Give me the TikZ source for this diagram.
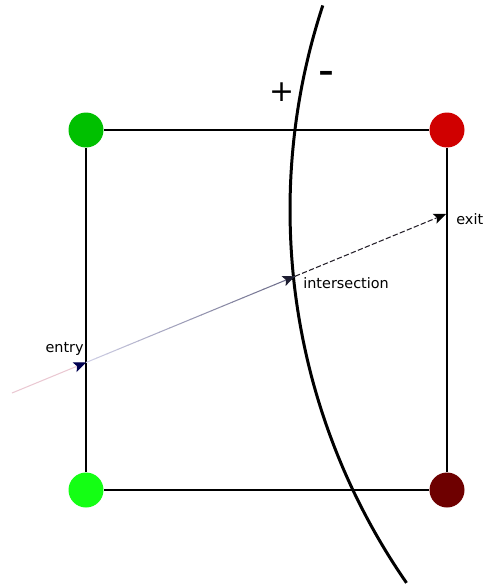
\documentclass[tikz,border=0pt]{standalone}
\usepackage{fontspec}
\setmainfont{DejaVu Sans}
\usetikzlibrary{positioning, arrows.meta, calc}

\definecolor{cornerTL}{RGB}{0,192,0}
\definecolor{cornerBL}{RGB}{20,255,20}
\definecolor{cornerTR}{RGB}{208,0,0}
\definecolor{cornerBR}{RGB}{110,0,0}
\definecolor{rayPink}{RGB}{234,200,210}
\definecolor{rayLight}{RGB}{205,205,228}
\definecolor{rayDark}{RGB}{105,105,135}
\definecolor{headNavy}{RGB}{0,0,80}
\definecolor{headDark}{RGB}{30,30,50}
\definecolor{rayDash}{RGB}{35,30,40}

\begin{document}
\begin{tikzpicture}[
    x=0.02cm, y=-0.02cm,
    font=\fontsize{8.2}{9.8}\selectfont,
    edge/.style={line width=1.2pt},
    vertex/.style={circle, minimum size=0.7cm, inner sep=0pt},
    boundary/.style={line width=1.7pt},
    rayline/.style={line width=0.6pt},
    tip/.style={-{Stealth[length=7pt, width=6pt, inset=1.5pt, color=#1]}},
    tag/.style={inner sep=0pt},
    sign/.style={inner sep=0pt, font=\fontsize{17}{20}\selectfont}
]
\useasboundingbox (0,0) rectangle (483,585);

% ==========================================
% Square cell with coloured corners
\node[vertex, fill=cornerTL] (tl) at (86,130) {};
\node[vertex, fill=cornerTR] (tr) at (447,130) {};
\node[vertex, fill=cornerBL] (bl) at (86,490) {};
\node[vertex, fill=cornerBR] (br) at (447,490) {};
\draw[edge] (tl) -- (tr);
\draw[edge] (tr) -- (br);
\draw[edge] (br) -- (bl);
\draw[edge] (bl) -- (tl);

% ==========================================
% Boundary curve (circle arc) and its sides
\draw[boundary] plot[domain=-18.2:34.7, samples=60, smooth, variable=\t]
    ({945-655*cos(\t)}, {210+655*sin(\t)});
\node[sign] (plus) at (282,92) {+};
\node[sign] (minus) at (326,76) {\bfseries\textendash};

% ==========================================
% Ray: start -> entry -> intersection -> exit
\coordinate (start) at (12,393);
\coordinate (entry) at (86,362.5);
\coordinate (isect) at (295,276.3);
\coordinate (exit) at (446,214);

\draw[rayline, rayPink, tip=headNavy] (start) -- (entry);
\foreach \i in {0,...,19} {
    \pgfmathsetmacro\a{\i/20}
    \pgfmathsetmacro\b{(\i+1)/20+0.002}
    \pgfmathsetmacro\p{100*\i/19}
    \draw[rayline, rayDark!\p!rayLight] ($(entry)!\a!(isect)$) -- ($(entry)!\b!(isect)$);
}
\draw[rayline, rayDark, tip=headDark] ($(entry)!0.97!(isect)$) -- (isect);
\draw[rayline, rayDash, dash pattern=on 3pt off 1.3pt, tip=black] (isect) -- (exit);

% Labels
\node[tag, anchor=south east] (entrylabel) at ($(entry)+(-2,-6.5)$) {entry};
\node[tag, anchor=west] (isectlabel) at ($(isect)+(8,6.7)$) {intersection};
\node[tag, anchor=west] (exitlabel) at ($(exit)+(10,5)$) {exit};

\end{tikzpicture}
\end{document}
